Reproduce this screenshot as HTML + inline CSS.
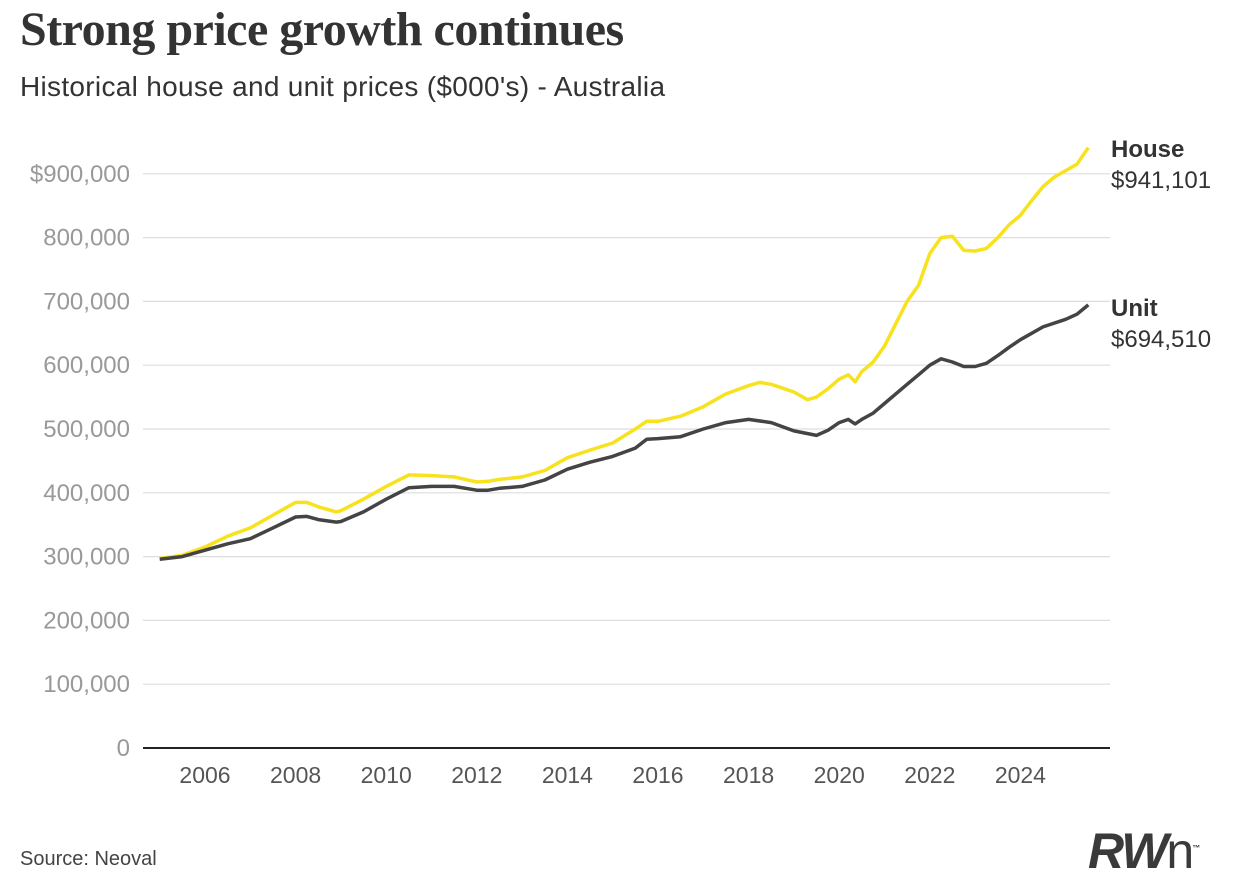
<!DOCTYPE html>
<html><head><meta charset="utf-8"><style>
body{margin:0;background:#fff;width:1240px;height:892px;overflow:hidden;font-family:"Liberation Sans",sans-serif;}
#title{position:absolute;left:20px;top:2px;font-family:"Liberation Serif",serif;font-weight:bold;font-size:48px;color:#333;letter-spacing:-0.5px}
#sub{position:absolute;left:20px;top:71px;font-size:28px;color:#333;letter-spacing:0.3px}
#src{position:absolute;left:20px;top:848px;font-size:20px;color:#444}
#logo{position:absolute;left:1088px;top:822px;font-size:50px;font-weight:bold;font-style:italic;color:#3a3a3a;letter-spacing:-2px}
#logo span{font-style:normal;font-weight:normal;}
</style></head><body>
<div id="title">Strong price growth continues</div>
<div id="sub">Historical house and unit prices ($000's) - Australia</div>
<div id="src">Source: Neoval</div>
<div id="logo">RW<span>n</span><sup style="font-size:8px;font-style:normal">™</sup></div>
<svg id="chart" width="1240" height="892" style="position:absolute;left:0;top:0" xmlns="http://www.w3.org/2000/svg"></svg>
<script>
const yTicks=[0,100000,200000,300000,400000,500000,600000,700000,800000,900000];
const yLabels=["0","100,000","200,000","300,000","400,000","500,000","600,000","700,000","800,000","$900,000"];
const xTicks=[2006,2008,2010,2012,2014,2016,2018,2020,2022,2024];
const houseX=[2005,2005.5,2006,2006.5,2007,2007.5,2008,2008.25,2008.5,2008.9,2009,2009.5,2010,2010.5,2011,2011.5,2012,2012.25,2012.5,2013,2013.5,2014,2014.5,2015,2015.5,2015.75,2016,2016.5,2017,2017.5,2018,2018.25,2018.5,2019,2019.3,2019.5,2019.75,2020,2020.2,2020.35,2020.5,2020.75,2021,2021.25,2021.5,2021.75,2022,2022.25,2022.5,2022.75,2023,2023.25,2023.5,2023.75,2024,2024.25,2024.5,2024.75,2025,2025.25,2025.5];
const houseV=[297,302,315,332,345,365,385,385,378,370,372,390,410,428,427,425,417,418,421,425,435,455,467,478,500,512,512,520,535,555,568,573,570,558,546,550,563,578,585,574,590,605,630,665,700,725,775,800,802,780,779,783,800,820,835,858,880,895,905,915,941.101];
const unitX=[2005,2005.5,2006,2006.5,2007,2007.5,2008,2008.25,2008.5,2008.9,2009,2009.5,2010,2010.5,2011,2011.5,2012,2012.25,2012.5,2013,2013.5,2014,2014.5,2015,2015.5,2015.75,2016,2016.5,2017,2017.5,2018,2018.5,2019,2019.5,2019.75,2020,2020.2,2020.35,2020.5,2020.75,2021,2021.5,2021.75,2022,2022.25,2022.5,2022.75,2023,2023.25,2023.5,2023.75,2024,2024.5,2025,2025.25,2025.5];
const unitV=[296,300,310,320,328,345,362,363,358,354,355,370,390,408,410,410,404,404,407,410,420,437,448,457,470,484,485,488,500,510,515,510,497,490,498,510,515,508,515,525,540,570,585,600,610,605,598,598,603,615,628,640,660,672,680,694.51];
const NS="http://www.w3.org/2000/svg";
const svg=document.getElementById('chart');
const xs=y=>205+(y-2006)*45.3;
const yv=v=>748-v*0.000638;
function mk(t,a){const e=document.createElementNS(NS,t);for(const k in a)e.setAttribute(k,a[k]);svg.appendChild(e);return e;}
yTicks.forEach((v,i)=>{
 if(v>0){const g=mk('line',{x1:143,x2:1110,y1:yv(v),y2:yv(v),stroke:'#ddd','stroke-width':1.2});
 
 }
 const t=mk('text',{x:130,y:yv(v)+8,'text-anchor':'end','font-size':24,fill:'#999','font-family':'Liberation Sans, sans-serif'});
 t.textContent=yLabels[i];
 
 
});
const ax=mk('line',{x1:143,x2:1110,y1:748,y2:748,stroke:'#222','stroke-width':2});


xTicks.forEach(y=>{
 const t=mk('text',{x:xs(y),y:783,'text-anchor':'middle','font-size':23,fill:'#555','font-family':'Liberation Sans, sans-serif'});
 t.textContent=y;
 
 
});
function line(X,V,c,name){
 const d=X.map((x,i)=>(i?'L':'M')+xs(x).toFixed(1)+','+yv(V[i]*1000).toFixed(1)).join(' ');
 const p=mk('path',{d:d,fill:'none',stroke:c,'stroke-width':3.5,'stroke-linejoin':'round'});
 
 
}
line(houseX,houseV,'#f7e21d','house-line');
line(unitX,unitV,'#444','unit-line');
function lab(y,a,b,name){
 const t=mk('text',{x:1111,y:y,'font-size':24,'font-weight':'bold',fill:'#333','font-family':'Liberation Sans, sans-serif'});t.textContent=a;
 
 
 const u=mk('text',{x:1111,y:y+31,'font-size':24,fill:'#333','font-family':'Liberation Sans, sans-serif'});u.textContent=b;
 
 
}
lab(157,'House','$941,101','house');
lab(316,'Unit','$694,510','unit');
</script>
</body></html>
